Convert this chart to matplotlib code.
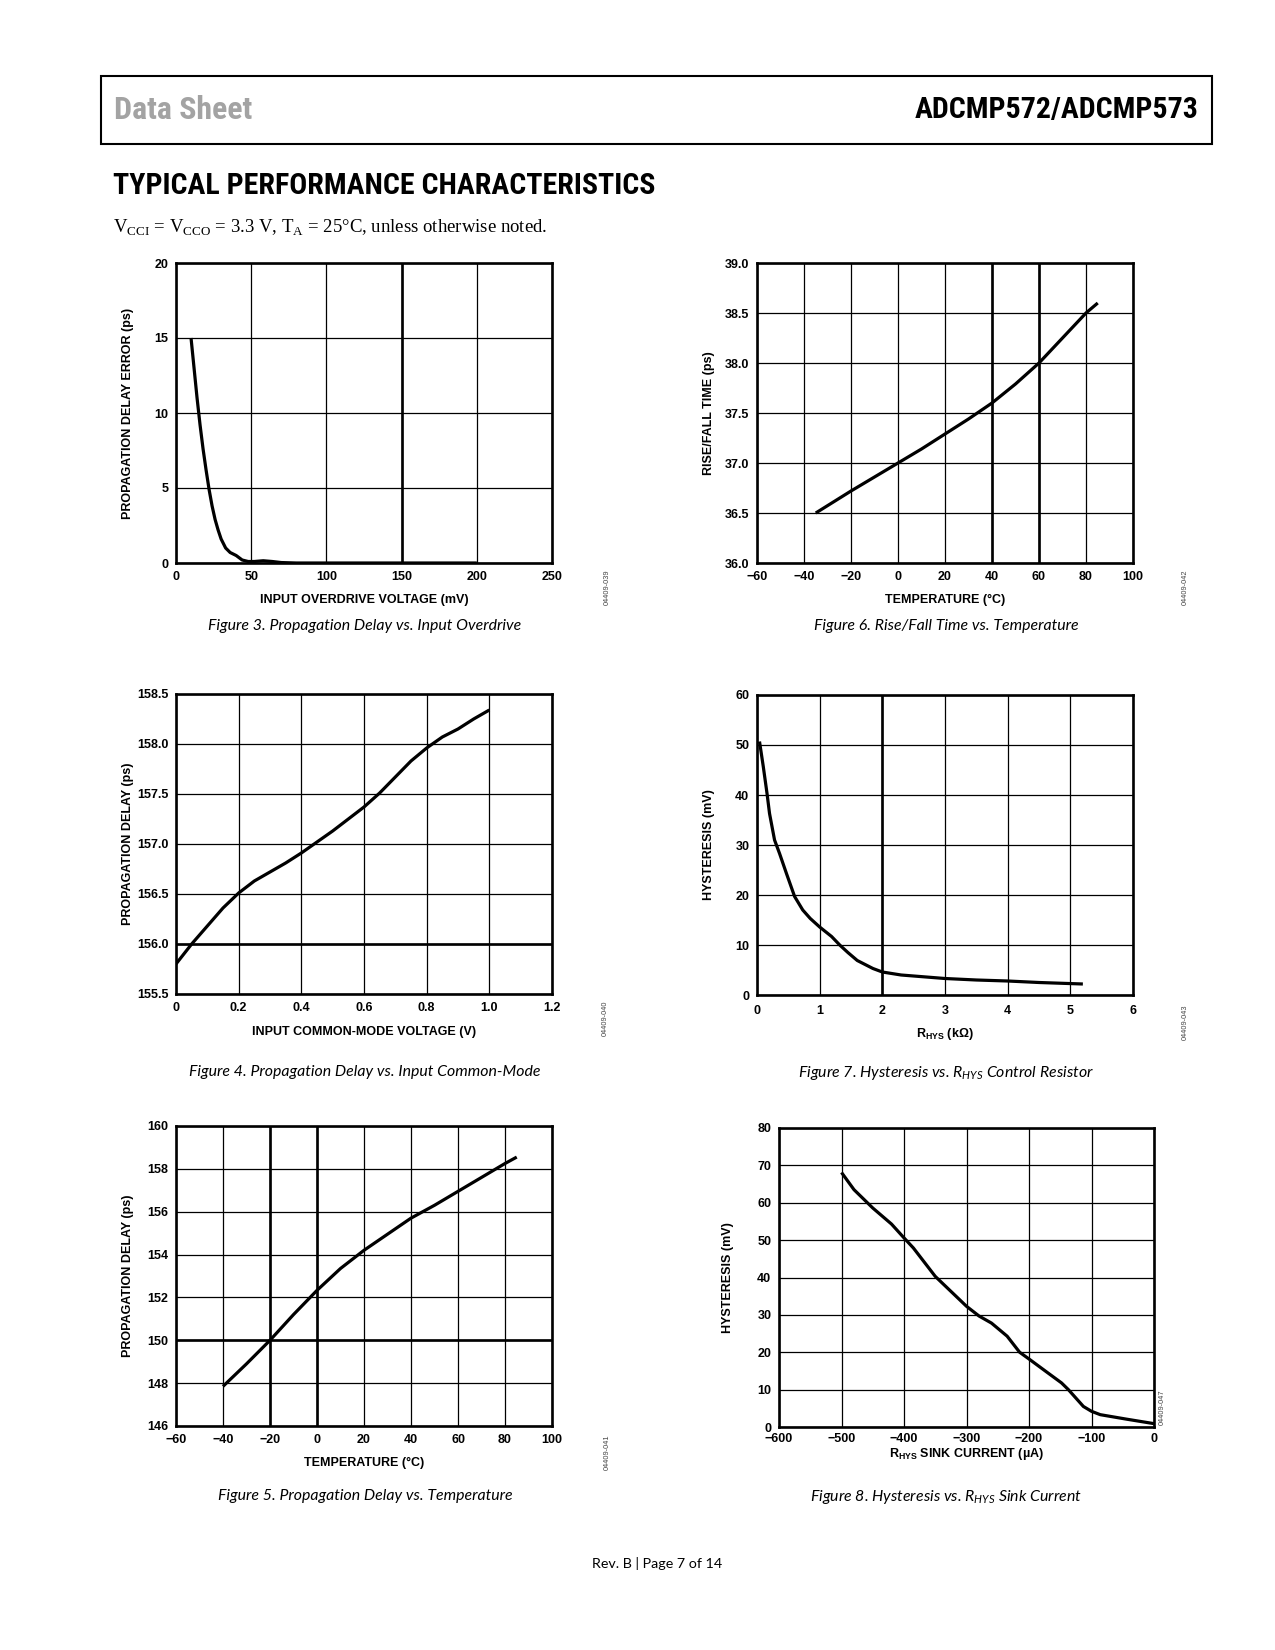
import matplotlib
matplotlib.use('Agg')
import matplotlib.pyplot as plt
from matplotlib import font_manager
from matplotlib.patches import Rectangle

# ---------------- data ----------------
# Figure 3: propagation delay error vs input overdrive
fig3_x = [10, 12, 14, 16, 18, 20, 22, 24, 26, 28, 30, 33, 36, 40, 44, 48, 52, 58, 64, 70, 80, 100, 150, 200]
fig3_y = [15.0, 13.0, 11.0, 9.2, 7.6, 6.2, 4.9, 3.8, 2.9, 2.2, 1.6, 1.0, 0.7, 0.5, 0.2, 0.1, 0.1, 0.15, 0.1, 0.03, 0, 0, 0, 0]
fig3_xticks = [0, 50, 100, 150, 200, 250]
fig3_yticks = [0, 5, 10, 15, 20]

# Figure 6: rise/fall time vs temperature
fig6_x = [-35, -20, -10, 0, 10, 20, 30, 40, 50, 60, 70, 80, 85]
fig6_y = [36.5, 36.72, 36.86, 37.0, 37.14, 37.29, 37.44, 37.6, 37.79, 38.0, 38.25, 38.5, 38.6]
fig6_xticks = [-60, -40, -20, 0, 20, 40, 60, 80, 100]
fig6_yticks = [36.0, 36.5, 37.0, 37.5, 38.0, 38.5, 39.0]

# Figure 4: propagation delay vs input common-mode
fig4_x = [0, 0.05, 0.1, 0.15, 0.2, 0.25, 0.3, 0.35, 0.4, 0.45, 0.5, 0.55, 0.6, 0.65, 0.7, 0.75, 0.8, 0.85, 0.9, 0.95, 1.0]
fig4_y = [155.8, 156.0, 156.18, 156.36, 156.51, 156.63, 156.72, 156.81, 156.91, 157.02, 157.13, 157.25, 157.37,
          157.51, 157.67, 157.83, 157.96, 158.07, 158.15, 158.25, 158.34]
fig4_xticks = [0, 0.2, 0.4, 0.6, 0.8, 1.0, 1.2]
fig4_xlabels = ['0', '0.2', '0.4', '0.6', '0.8', '1.0', '1.2']
fig4_yticks = [155.5, 156.0, 156.5, 157.0, 157.5, 158.0, 158.5]

# Figure 7: hysteresis vs RHYS
fig7_x = [0.04, 0.1, 0.16, 0.2, 0.28, 0.36, 0.47, 0.6, 0.73, 0.85, 1.0, 1.19, 1.32, 1.45, 1.6, 1.85, 2.0, 2.3, 2.6,
          3.0, 3.5, 4.0, 4.5, 5.2]
fig7_y = [50.7, 45.7, 40.3, 36.3, 31.0, 28.3, 24.3, 19.7, 17.0, 15.3, 13.6, 11.7, 10.0, 8.5, 6.9, 5.3, 4.6, 4.0, 3.7,
          3.3, 3.0, 2.8, 2.5, 2.2]
fig7_xticks = [0, 1, 2, 3, 4, 5, 6]
fig7_yticks = [0, 10, 20, 30, 40, 50, 60]

# Figure 5: propagation delay vs temperature
fig5_x = [-40, -30, -20, -10, 0, 10, 20, 30, 40, 50, 60, 70, 80, 85]
fig5_y = [147.85, 148.9, 150.0, 151.2, 152.33, 153.35, 154.2, 154.95, 155.7, 156.3, 156.95, 157.6, 158.25, 158.55]
fig5_xticks = [-60, -40, -20, 0, 20, 40, 60, 80, 100]
fig5_yticks = [146, 148, 150, 152, 154, 156, 158, 160]

# Figure 8: hysteresis vs RHYS sink current
fig8_x = [-500, -480, -450, -420, -400, -385, -350, -325, -300, -280, -260, -235, -215, -200, -170, -148, -137,
          -113, -100, -86, -65, -44, 0]
fig8_y = [68.1, 63.5, 58.6, 54.3, 50.6, 47.9, 40.3, 36.3, 32.3, 29.7, 27.8, 24.3, 20.0, 18.2, 14.5, 11.8, 10.0,
          5.5, 4.2, 3.3, 2.7, 2.1, 0.9]
fig8_xticks = [-600, -500, -400, -300, -200, -100, 0]
fig8_yticks = [0, 10, 20, 30, 40, 50, 60, 70, 80]

# ---------------- fonts ----------------
avail = {f.name for f in font_manager.fontManager.ttflist}


def pick(*names):
    for n in names:
        if n in avail:
            return n
    return 'DejaVu Sans'


SANS = pick('Liberation Sans', 'Arial', 'DejaVu Sans')
SERIF = pick('Liberation Serif', 'DejaVu Serif')
COND = pick('Liberation Sans Narrow', 'Roboto Condensed', 'Roboto', SANS)
CAP = pick('Lato', 'Open Sans', 'Noto Sans', SANS)

plt.rcParams['font.family'] = [SANS, 'DejaVu Sans']
plt.rcParams['mathtext.fontset'] = 'custom'
plt.rcParams['mathtext.rm'] = SERIF
plt.rcParams['mathtext.it'] = CAP + ':italic'
plt.rcParams['mathtext.bf'] = SANS + ':bold'
plt.rcParams['mathtext.default'] = 'bf'

W, H = 1275, 1650
fig = plt.figure(figsize=(W / 100, H / 100), dpi=100)
fig.patch.set_facecolor('white')


def fx(x):
    return x / W


def fy(y):
    return 1 - y / H


def make_ax(l, t, r, b):
    return fig.add_axes([l / W, 1 - b / H, (r - l) / W, (b - t) / H])


def style_ax(ax, box, x, y, xticks, xlabels, yticks, ylabels, xlim, ylim,
             xlabel, ylabel, xlab_px, ylab_px, bold_x=(), bold_y=(), xpad=6):
    l, t, r, b = box
    ax.plot(x, y, color='black', lw=2.3, zorder=4, solid_capstyle='butt')
    ax.set_xlim(*xlim)
    ax.set_ylim(*ylim)
    ax.set_xticks(xticks)
    ax.set_xticklabels(xlabels, fontweight='bold', fontsize=9)
    ax.set_yticks(yticks)
    ax.set_yticklabels(ylabels, fontweight='bold', fontsize=9)
    ax.tick_params(axis='both', length=0)
    ax.tick_params(axis='x', pad=xpad)
    ax.tick_params(axis='y', pad=5.5)
    ax.grid(True, color='black', lw=0.9, zorder=1)
    ax.set_axisbelow(True)
    for v in bold_x:
        ax.axvline(v, color='black', lw=1.9, zorder=2)
    for v in bold_y:
        ax.axhline(v, color='black', lw=1.9, zorder=2)
    for s in ax.spines.values():
        s.set_linewidth(1.9)
        s.set_zorder(5)
    ax.set_xlabel(xlabel, fontweight='bold', fontsize=9)
    ax.set_ylabel(ylabel, fontweight='bold', fontsize=9)
    ax.xaxis.label.set_va('center')
    ax.yaxis.label.set_va('center')
    ax.xaxis.set_label_coords(0.5, (b - xlab_px) / (b - t))
    ax.yaxis.set_label_coords((ylab_px - l) / (r - l), 0.5)


def fmt_int(v):
    return ('\u2212' + str(abs(int(v)))) if v < 0 else str(int(v))


def fmt1(v):
    return f'{v:.1f}'


# Figure 3
box = (176, 263, 552, 563)
ax = make_ax(*box)
style_ax(ax, box, fig3_x, fig3_y, fig3_xticks, [fmt_int(v) for v in fig3_xticks],
         fig3_yticks, [fmt_int(v) for v in fig3_yticks], (0, 250), (0, 20),
         'INPUT OVERDRIVE VOLTAGE (mV)', 'PROPAGATION DELAY ERROR (ps)', 600, 128, bold_x=[150])

# Figure 6
box = (757, 263, 1133, 563)
ax = make_ax(*box)
style_ax(ax, box, fig6_x, fig6_y, fig6_xticks, [fmt_int(v) for v in fig6_xticks],
         fig6_yticks, [fmt1(v) for v in fig6_yticks], (-60, 100), (36, 39),
         'TEMPERATURE (°C)', 'RISE/FALL TIME (ps)', 600, 709, bold_x=[40, 60])

# Figure 4
box = (176, 694, 552, 994)
ax = make_ax(*box)
style_ax(ax, box, fig4_x, fig4_y, fig4_xticks, fig4_xlabels,
         fig4_yticks, [fmt1(v) for v in fig4_yticks], (0, 1.2), (155.5, 158.5),
         'INPUT COMMON-MODE VOLTAGE (V)', 'PROPAGATION DELAY (ps)', 1032, 128, bold_y=[156.0])

# Figure 7
box = (757, 695, 1133, 995)
ax = make_ax(*box)
style_ax(ax, box, fig7_x, fig7_y, fig7_xticks, [fmt_int(v) for v in fig7_xticks],
         fig7_yticks, [fmt_int(v) for v in fig7_yticks], (0, 6), (0, 60),
         'R$_{HYS}$ (k\u03a9)', 'HYSTERESIS (mV)', 1034, 709, bold_x=[2], xpad=7)

# Figure 5
box = (176, 1126, 552, 1426)
ax = make_ax(*box)
style_ax(ax, box, fig5_x, fig5_y, fig5_xticks, [fmt_int(v) for v in fig5_xticks],
         fig5_yticks, [fmt_int(v) for v in fig5_yticks], (-60, 100), (146, 160),
         'TEMPERATURE (°C)', 'PROPAGATION DELAY (ps)', 1463, 128, bold_x=[-20, 0], bold_y=[150])

# Figure 8
box = (779, 1128, 1154, 1427)
ax = make_ax(*box)
style_ax(ax, box, fig8_x, fig8_y, fig8_xticks, [fmt_int(v) for v in fig8_xticks],
         fig8_yticks, [fmt_int(v) for v in fig8_yticks], (-600, 0), (0, 80),
         'R$_{HYS}$ SINK CURRENT (\u00b5A)', 'HYSTERESIS (mV)', 1454, 728, xpad=4)

# code labels
codes = [('04409-039', 607, 587), ('04409-042', 1185, 587), ('04409-040', 605, 1018),
         ('04409-043', 1185, 1022), ('04409-041', 607, 1452), ('04409-047', 1162, 1407)]
for c, x, y in codes:
    fig.text(fx(x), fy(y), c, rotation=90, fontsize=5.3, color='#444444', ha='center', va='center')

# header box
fig.add_artist(Rectangle((fx(101), fy(144)), (1212 - 101) / W, (144 - 76) / H, transform=fig.transFigure,
                         fill=False, lw=1.5, ec='black'))

renderer = fig.canvas.get_renderer()


def fit(txt, target):
    w = txt.get_window_extent(renderer).width
    txt.set_fontsize(txt.get_fontsize() * target / w)


t1 = fig.text(fx(114), fy(110), 'Data Sheet', family=COND, fontweight='bold', color='#a3a3a3',
              fontsize=20, ha='left', va='center')
fit(t1, 138)
t2 = fig.text(fx(1199), fy(110), 'ADCMP572/ADCMP573', family=COND, fontweight='bold', color='black',
              fontsize=20, ha='right', va='center')
fit(t2, 284)
t3 = fig.text(fx(113), fy(186), 'TYPICAL PERFORMANCE CHARACTERISTICS', family=COND, fontweight='bold',
              color='black', fontsize=20, ha='left', va='center')
fit(t3, 542)
t4 = fig.text(fx(113), fy(227), 'V$_{\\mathrm{CCI}}$ = V$_{\\mathrm{CCO}}$ = 3.3 V, T$_{\\mathrm{A}}$ = 25°C, unless otherwise noted.',
              family=SERIF, color='black', fontsize=12, ha='left', va='center')
fit(t4, 433)

# captions
captions = [('Figure 3. Propagation Delay vs. Input Overdrive', 365, 626),
            ('Figure 6. Rise/Fall Time vs. Temperature', 946, 626),
            ('Figure 4. Propagation Delay vs. Input Common-Mode', 365, 1072),
            ('Figure 7. Hysteresis vs. R$_{\\mathit{HYS}}$ Control Resistor', 946, 1073),
            ('Figure 5. Propagation Delay vs. Temperature', 365, 1496),
            ('Figure 8. Hysteresis vs. R$_{\\mathit{HYS}}$ Sink Current', 946, 1497)]
cap_texts = []
for s, x, y in captions:
    cap_texts.append(fig.text(fx(x), fy(y), s, family=CAP, style='italic', fontsize=11,
                              ha='center', va='center', color='black'))
w4 = cap_texts[2].get_window_extent(renderer).width
cap_size = 11 * 351 / w4
for t in cap_texts:
    t.set_fontsize(cap_size)

t5 = fig.text(fx(657), fy(1564), 'Rev. B | Page 7 of 14', family=CAP, fontsize=10, ha='center', va='center',
              color='black')
fit(t5, 130)

fig.savefig('out.png', dpi=100, facecolor='white')
